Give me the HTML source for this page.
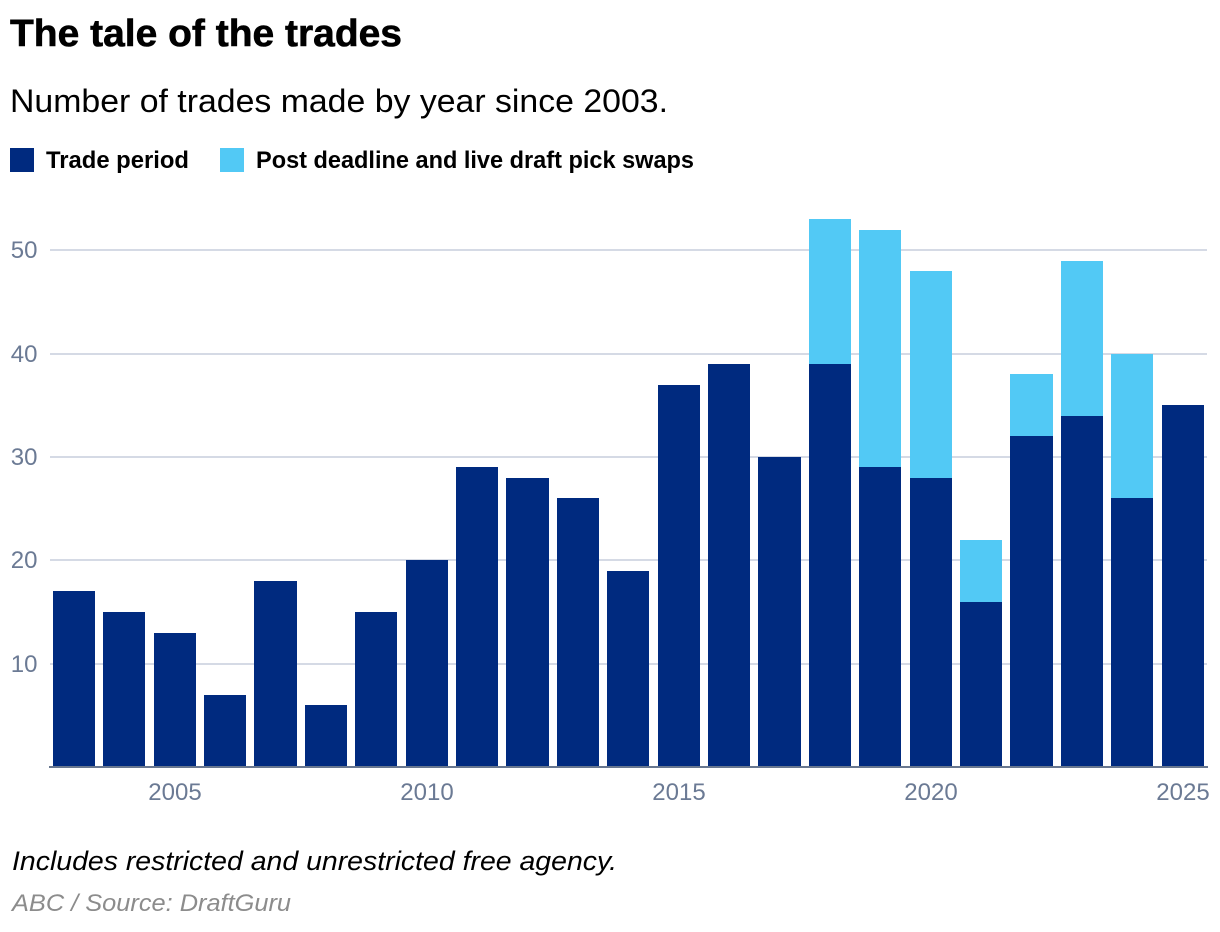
<!DOCTYPE html>
<html lang="en">
<head>
<meta charset="utf-8">
<title>The tale of the trades</title>
<style>
html,body{margin:0;padding:0;background:#fff}
svg{display:block;font-family:"Liberation Sans",sans-serif}
</style>
</head>
<body>
<svg id="chart" width="1220" height="932" viewBox="0 0 1220 932" xmlns="http://www.w3.org/2000/svg">
  <text x="10" y="46" font-size="38" font-weight="700" fill="#000" stroke="#000" stroke-width="0.6" textLength="392" lengthAdjust="spacingAndGlyphs">The tale of the trades</text>
  <text x="10" y="112" font-size="32" fill="#000" textLength="658" lengthAdjust="spacingAndGlyphs">Number of trades made by year since 2003.</text>
  <g>
    <rect x="10" y="148" width="24" height="24" fill="#002a7f"/>
    <text x="46" y="168" font-size="24" font-weight="700" fill="#000" textLength="143" lengthAdjust="spacingAndGlyphs">Trade period</text>
    <rect x="220" y="148" width="24" height="24" fill="#52c9f5"/>
    <text x="256" y="168" font-size="24" font-weight="700" fill="#000" textLength="438" lengthAdjust="spacingAndGlyphs">Post deadline and live draft pick swaps</text>
  </g>
  <g id="grid"></g>
  <g id="yticks"></g>
  <g id="bars"></g>
  <line x1="49" x2="1208" y1="767" y2="767" stroke="#68778f" stroke-width="2"/>
  <g id="xticks"></g>
  <text x="12" y="870" font-size="27" font-style="italic" fill="#000" textLength="605" lengthAdjust="spacingAndGlyphs">Includes restricted and unrestricted free agency.</text>
  <text x="12" y="911" font-size="24" font-style="italic" fill="#8c8c8c" textLength="279" lengthAdjust="spacingAndGlyphs">ABC / Source: DraftGuru</text>
</svg>
<script>
const years = [2003,2004,2005,2006,2007,2008,2009,2010,2011,2012,2013,2014,2015,2016,2017,2018,2019,2020,2021,2022,2023,2024,2025];
const tradePeriod = [17,15,13,7,18,6,15,20,29,28,26,19,37,39,30,39,29,28,16,32,34,26,35];
const postDeadline = [0,0,0,0,0,0,0,0,0,0,0,0,0,0,0,14,23,20,6,6,15,14,0];
const yTicks = [10,20,30,40,50];
const xTicks = [2005,2010,2015,2020,2025];

const NS = 'http://www.w3.org/2000/svg';
const yScale = v => Math.round(767.25 - v * 10.34);
const step = 50.395;
const barLeft = year => Math.floor(53.32 + (year - years[0]) * step);
const barRight = year => Math.floor(95.5 + (year - years[0]) * step);

function make(tag, attrs) {
  const el = document.createElementNS(NS, tag);
  for (const k in attrs) el.setAttribute(k, attrs[k]);
  return el;
}

const grid = document.getElementById('grid');
const yG = document.getElementById('yticks');
const xG = document.getElementById('xticks');
const barsG = document.getElementById('bars');

yTicks.forEach(t => {
  const y = yScale(t);
  const line = make('line', {x1: 50, x2: 1207, y1: y, y2: y, stroke: '#d5dae5', 'stroke-width': 2});
  
  
  grid.appendChild(line);
  const label = make('text', {x: 37.5, y: y + 8, 'text-anchor': 'end', 'font-size': 24, fill: '#6b7a94'});
  
  
  label.textContent = t;
  yG.appendChild(label);
});

xTicks.forEach(t => {
  const label = make('text', {x: (barLeft(t) + barRight(t)) / 2, y: 800, 'text-anchor': 'middle', 'font-size': 24, fill: '#6b7a94'});
  
  
  label.textContent = t;
  xG.appendChild(label);
});

years.forEach((year, i) => {
  const left = barLeft(year);
  const right = barRight(year);
  const base = 767;
  const top1 = yScale(tradePeriod[i]);
  const a = make('rect', {x: left, y: top1, width: right - left, height: base - top1, fill: '#002a7f'});
  
  
  barsG.appendChild(a);
  if (postDeadline[i] > 0) {
    const top2 = yScale(tradePeriod[i] + postDeadline[i]);
    const b = make('rect', {x: left, y: top2, width: right - left, height: top1 - top2, fill: '#52c9f5'});
    
    
    barsG.appendChild(b);
  }
});
</script>
</body>
</html>
